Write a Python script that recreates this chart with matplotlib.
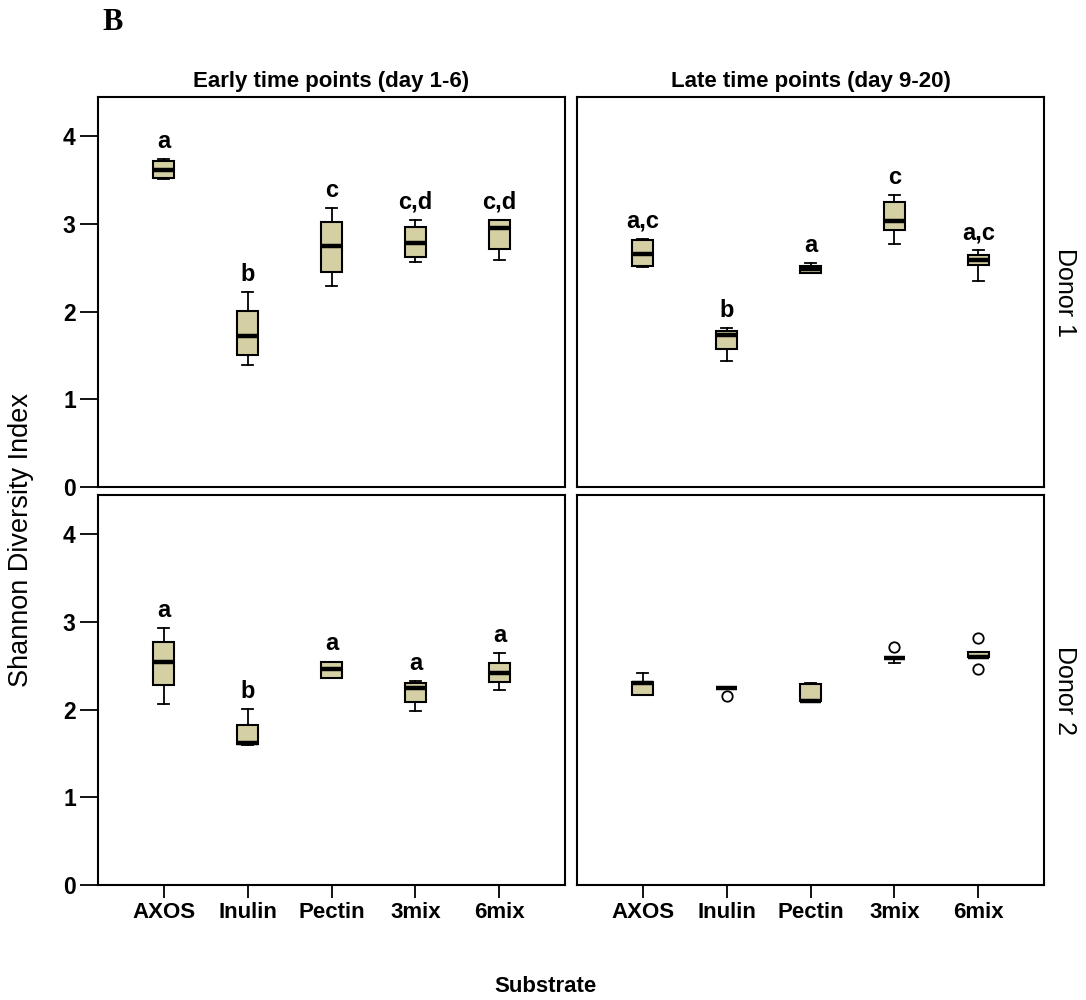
import matplotlib
matplotlib.use("Agg")
import matplotlib.pyplot as plt

plt.rcParams['font.family'] = ['Liberation Sans', 'DejaVu Sans']

categories = ['AXOS', 'Inulin', 'Pectin', '3mix', '6mix']
y_ticks = [0, 1, 2, 3, 4]
col_titles = ['Early time points (day 1-6)', 'Late time points (day 9-20)']
row_titles = ['Donor 1', 'Donor 2']

# Donor 1, early
early_d1_whislo = [3.51, 1.39, 2.29, 2.57, 2.59]
early_d1_q1 = [3.53, 1.51, 2.45, 2.63, 2.72]
early_d1_med = [3.62, 1.72, 2.75, 2.78, 2.95]
early_d1_q3 = [3.72, 2.01, 3.02, 2.97, 3.05]
early_d1_whishi = [3.74, 2.22, 3.18, 3.05, 3.05]
early_d1_fliers = [[], [], [], [], []]
early_d1_letters = ['a', 'b', 'c', 'c,d', 'c,d']

# Donor 1, late
late_d1_whislo = [2.51, 1.44, 2.44, 2.77, 2.35]
late_d1_q1 = [2.52, 1.57, 2.44, 2.93, 2.53]
late_d1_med = [2.66, 1.74, 2.49, 3.03, 2.59]
late_d1_q3 = [2.82, 1.78, 2.52, 3.25, 2.65]
late_d1_whishi = [2.83, 1.81, 2.56, 3.33, 2.70]
late_d1_fliers = [[], [], [], [], []]
late_d1_letters = ['a,c', 'b', 'a', 'c', 'a,c']

# Donor 2, early
early_d2_whislo = [2.06, 1.60, 2.36, 1.98, 2.23]
early_d2_q1 = [2.28, 1.61, 2.36, 2.09, 2.32]
early_d2_med = [2.54, 1.62, 2.46, 2.25, 2.42]
early_d2_q3 = [2.77, 1.83, 2.55, 2.30, 2.53]
early_d2_whishi = [2.93, 2.01, 2.55, 2.33, 2.65]
early_d2_fliers = [[], [], [], [], []]
early_d2_letters = ['a', 'b', 'a', 'a', 'a']

# Donor 2, late
late_d2_whislo = [2.17, 2.25, 2.10, 2.53, 2.60]
late_d2_q1 = [2.17, 2.25, 2.10, 2.59, 2.60]
late_d2_med = [2.30, 2.25, 2.10, 2.59, 2.60]
late_d2_q3 = [2.32, 2.25, 2.29, 2.59, 2.655]
late_d2_whishi = [2.42, 2.25, 2.30, 2.59, 2.655]
late_d2_fliers = [[], [2.16], [], [2.71], [2.82, 2.47]]
late_d2_letters = ['', '', '', '', '']

panels = [
    [(early_d1_whislo, early_d1_q1, early_d1_med, early_d1_q3, early_d1_whishi, early_d1_fliers, early_d1_letters),
     (late_d1_whislo, late_d1_q1, late_d1_med, late_d1_q3, late_d1_whishi, late_d1_fliers, late_d1_letters)],
    [(early_d2_whislo, early_d2_q1, early_d2_med, early_d2_q3, early_d2_whishi, early_d2_fliers, early_d2_letters),
     (late_d2_whislo, late_d2_q1, late_d2_med, late_d2_q3, late_d2_whishi, late_d2_fliers, late_d2_letters)],
]

W, H = 1086, 1000
fig = plt.figure(figsize=(W / 100, H / 100), dpi=100)

box_color = '#D5D0A3'
lefts = [98, 577]
tops = [97, 495]
pw, ph = 467, 390

for r in range(2):
    for c in range(2):
        ax = fig.add_axes([lefts[c] / W, 1 - (tops[r] + ph) / H, pw / W, ph / H])
        wl, q1, med, q3, wh, fl, letters = panels[r][c]
        stats = []
        for i in range(len(categories)):
            stats.append(dict(whislo=wl[i], q1=q1[i], med=med[i], q3=q3[i],
                              whishi=wh[i], fliers=fl[i]))
        pos = list(range(1, len(categories) + 1))
        ax.bxp(stats, positions=pos, widths=0.26, capwidths=0.13, patch_artist=True,
               showfliers=True,
               boxprops=dict(facecolor=box_color, edgecolor='black', linewidth=1.5),
               medianprops=dict(color='black', linewidth=3.2, solid_capstyle='butt'),
               whiskerprops=dict(color='black', linewidth=1.3),
               capprops=dict(color='black', linewidth=1.3),
               flierprops=dict(marker='o', markerfacecolor='white', markeredgecolor='black',
                               markersize=7.5, markeredgewidth=1.3, linestyle='none'))
        for i, lab in enumerate(letters):
            if lab:
                ax.annotate(lab, (pos[i], wh[i]), xytext=(0, 8), textcoords='offset points',
                            ha='center', va='baseline', fontsize=17, fontweight='bold')
        ax.set_xlim(0.22, 5.78)
        ax.set_ylim(0, 4.45)
        for sp in ax.spines.values():
            sp.set_linewidth(1.5)
        ax.set_yticks(y_ticks)
        ax.set_xticks(pos)
        ax.tick_params(axis='y', direction='out', length=13, width=1.3, pad=3,
                       labelsize=16.5)
        ax.tick_params(axis='x', direction='out', length=9.5, width=1.3, pad=3,
                       labelsize=16)
        if c == 0:
            ax.set_yticklabels([str(t) for t in y_ticks], fontweight='bold')
        else:
            ax.tick_params(axis='y', left=False, labelleft=False)
        if r == 1:
            ax.set_xticklabels(categories, fontweight='bold')
        else:
            ax.tick_params(axis='x', bottom=False, labelbottom=False)

# Column titles
for c in range(2):
    fig.text((lefts[c] + pw / 2) / W, 1 - 82 / H, col_titles[c], ha='center', va='center',
             fontsize=16, fontweight='bold')
# Row titles
for r in range(2):
    fig.text(1065 / W, 1 - (tops[r] + ph / 2) / H, row_titles[r], ha='center', va='center',
             rotation=-90, fontsize=18)

fig.text(21 / W, 1 - 540 / H, 'Shannon Diversity Index', ha='center', va='center',
         rotation=90, fontsize=19.5)
fig.text(545 / W, 1 - 987 / H, 'Substrate', ha='center', va='center', fontsize=16,
         fontweight='bold')
fig.text(113 / W, 1 - 23 / H, 'B', ha='center', va='center', fontsize=22,
         fontweight='bold', family=['Liberation Serif', 'DejaVu Serif'])

fig.savefig('out.png', dpi=100, facecolor='white')
